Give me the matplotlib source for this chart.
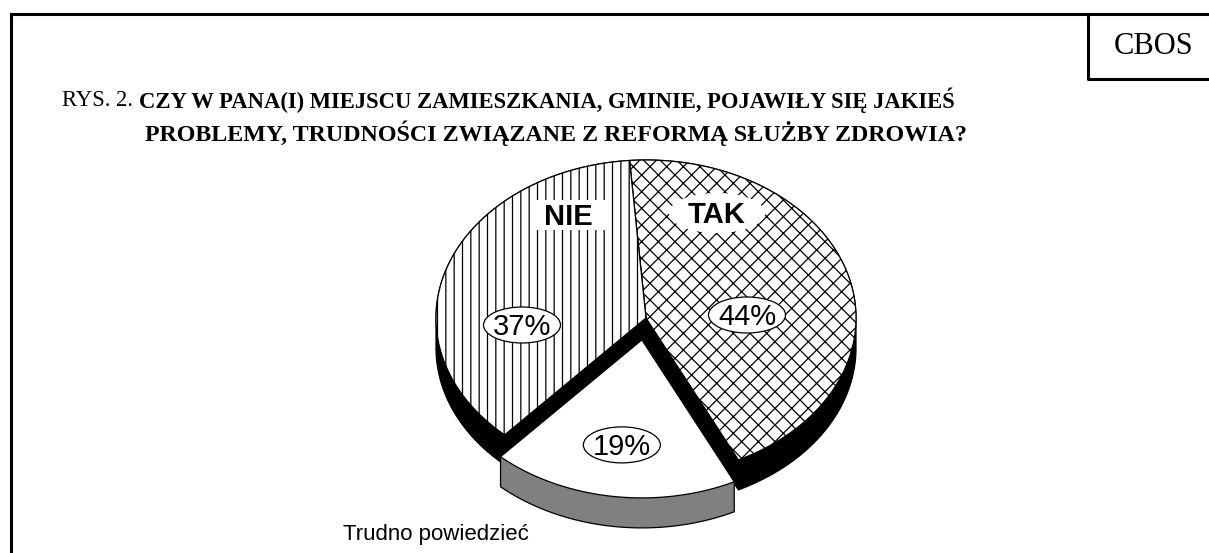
import numpy as np
import matplotlib
matplotlib.use('Agg')
import matplotlib.pyplot as plt
from matplotlib.patches import Polygon, Ellipse, Rectangle

# =========================
# DANE
# =========================
kategorie = ['TAK', 'Trudno powiedzieć', 'NIE']
wartosci = [44, 19, 37]
etykiety_proc = ['44%', '19%', '37%']
wysuniecie = [0.0, 0.14, 0.0]

tytul_1a = 'RYS. 2. '
tytul_1b = 'CZY W PANA(I) MIEJSCU ZAMIESZKANIA, GMINIE, POJAWIŁY SIĘ JAKIEŚ'
tytul_2 = 'PROBLEMY, TRUDNOŚCI ZWIĄZANE Z REFORMĄ SŁUŻBY ZDROWIA?'
zrodlo = 'CBOS'

# =========================
# UKŁAD (piksele)
# =========================
W, H = 1209, 553
CX, CY = 646, 318      # środek elipsy
RX, RY = 210, 158      # półosie
GLEB = 30              # grubość tortu
START = 94.5           # kąt początkowy, zgodnie z ruchem wskazówek

kreskowanie = ['xx', '', '||']
kolor_boku = ['black', '#808080', 'black']

# przesunięcia etykiet względem środka wycinka
poz_proc = [(101, -3), (-20, 105), (-124, 7)]
poz_nazw = {'TAK': (71, -105), 'NIE': (-78, -103)}
poz_trudno = (-303, 222)

SANS = 'Liberation Sans'
SERIF = 'Liberation Serif'
plt.rcParams['hatch.linewidth'] = 0.9


def otoczka(p):
    pts = sorted(set((round(x, 3), round(y, 3)) for x, y in p))

    def cross(o, a, b):
        return (a[0] - o[0]) * (b[1] - o[1]) - (a[1] - o[1]) * (b[0] - o[0])

    dol, gora = [], []
    for q in pts:
        while len(dol) >= 2 and cross(dol[-2], dol[-1], q) <= 0:
            dol.pop()
        dol.append(q)
    for q in reversed(pts):
        while len(gora) >= 2 and cross(gora[-2], gora[-1], q) <= 0:
            gora.pop()
        gora.append(q)
    return np.array(dol[:-1] + gora[:-1])


def wycinek(t1, t2, dx, dy):
    t = np.radians(np.linspace(t1, t2, 200))
    xs = CX + dx + RX * np.cos(t)
    ys = CY + dy - RY * np.sin(t)
    return np.vstack([[CX + dx, CY + dy], np.column_stack([xs, ys])])


fig = plt.figure(figsize=(W / 100, H / 100), dpi=100)
ax = fig.add_axes([0, 0, 1, 1])
ax.set_xlim(0, W)
ax.set_ylim(H, 0)
ax.axis('off')

# ramka
ax.plot([11, W], [14, 14], color='black', lw=2.2, solid_capstyle='projecting')
ax.plot([11, 11], [14, H], color='black', lw=2.2, solid_capstyle='projecting')
ax.plot([1088, 1088, W], [14, 79, 79], color='black', lw=2.2, solid_capstyle='projecting')
ax.text(1154, 46, zrodlo, fontsize=22, family=SERIF, ha='center', va='center')

# tytuł
t1 = ax.text(62, 100, tytul_1a, fontsize=16.3, family=SERIF, ha='left', va='center')
ax.annotate(tytul_1b, xy=(1, 0.5), xycoords=t1, fontsize=16.3, family=SERIF,
            fontweight='bold', ha='left', va='center')
ax.text(145, 133, tytul_2, fontsize=17.3, family=SERIF, fontweight='bold',
        ha='left', va='center')

# geometria wycinków
ulamki = np.array(wartosci) / sum(wartosci)
granice = START - np.concatenate([[0], np.cumsum(ulamki)]) * 360
przes = []
for i in range(len(wartosci)):
    mid = np.radians((granice[i] + granice[i + 1]) / 2)
    przes.append((wysuniecie[i] * RX * np.cos(mid), -wysuniecie[i] * RY * np.sin(mid)))

kolejnosc = [i for i in range(len(wartosci)) if wysuniecie[i] == 0] + \
            [i for i in range(len(wartosci)) if wysuniecie[i] > 0]

for i in kolejnosc:
    dx, dy = przes[i]
    gora = wycinek(granice[i], granice[i + 1], dx, dy)
    bryla = otoczka(np.vstack([gora, gora + [0, GLEB]]))
    ax.add_patch(Polygon(bryla, closed=True, fc=kolor_boku[i], ec='black', lw=0.9))
    ax.add_patch(Polygon(gora, closed=True, fc='white', ec='black', lw=0.9,
                         hatch=kreskowanie[i] or None))

# etykiety
for i, kat in enumerate(kategorie):
    dx, dy = przes[i]
    px, py = CX + dx + poz_proc[i][0], CY + dy + poz_proc[i][1]
    ax.add_patch(Ellipse((px, py), 77, 36, fc='white', ec='black', lw=0.9))
    ax.text(px, py - 1, etykiety_proc[i], fontsize=21, family=SANS, ha='center',
            va='center_baseline')
    if kat in poz_nazw:
        nx, ny = CX + poz_nazw[kat][0], CY + poz_nazw[kat][1]
        if kat == 'TAK':
            ax.add_patch(Ellipse((nx, ny), 96, 40, fc='white', ec='none'))
        else:
            ax.add_patch(Rectangle((nx - 37, ny - 15), 74, 30, fc='white', ec='none'))
        ax.text(nx, ny - 1, kat, fontsize=21, family=SANS, fontweight='bold',
                ha='center', va='center_baseline')
    else:
        ax.text(CX + poz_trudno[0], CY + poz_trudno[1], kat, fontsize=16, family=SANS,
                ha='left', va='baseline')

fig.savefig('out.png', dpi=100)
